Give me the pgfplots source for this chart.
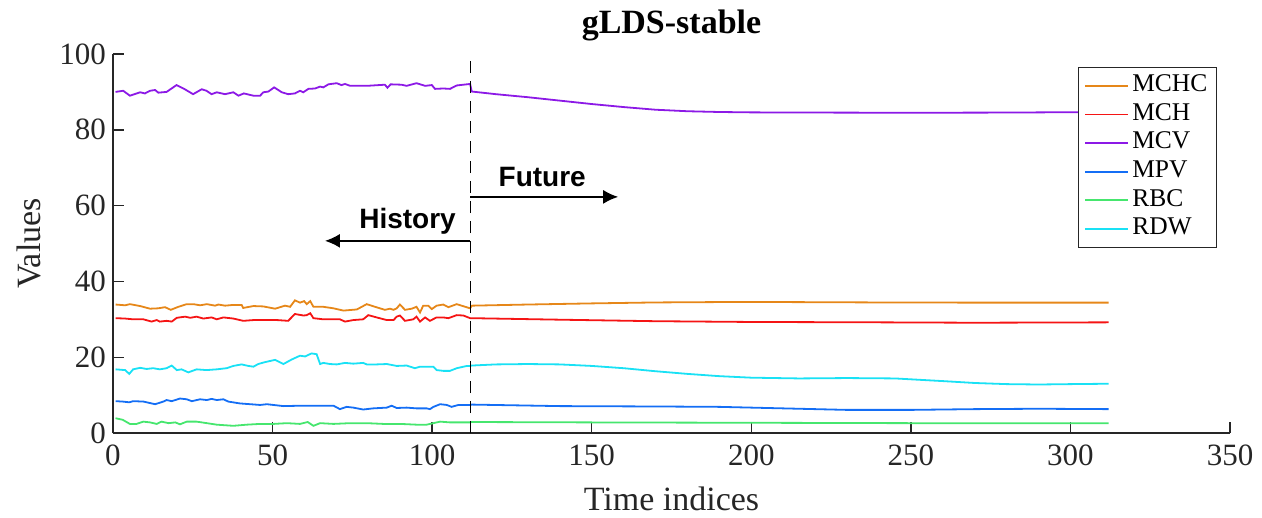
\documentclass[border=0pt]{standalone}
\usepackage{pgfplots}
\pgfplotsset{compat=1.18}
\usetikzlibrary{arrows.meta}
\usepackage{fontspec}
\setmainfont{Liberation Serif}
\newfontfamily\helv{Liberation Sans}
\definecolor{cMCHC}{RGB}{230,135,25}
\definecolor{cMCH}{RGB}{245,20,20}
\definecolor{cMCV}{RGB}{140,25,230}
\definecolor{cMPV}{RGB}{20,110,245}
\definecolor{cRBC}{RGB}{70,230,110}
\definecolor{cRDW}{RGB}{25,225,245}
\definecolor{axgray}{RGB}{38,38,38}
\begin{document}
\begin{tikzpicture}
\begin{axis}[
  scale only axis, width=558.5pt, height=189.5pt,
  xmin=0, xmax=350, ymin=0, ymax=100,
  xtick={0,50,...,350}, ytick={0,20,...,100},
  axis x line*=bottom, axis y line*=left,
  tick align=inside, major tick length=5.5pt,
  axis line style={line width=0.7pt, color=axgray},
  every tick/.style={line width=0.7pt, color=axgray},
  /pgf/number format/assume math mode=true,
  tick label style={font=\fontsize{15.5}{18}\selectfont, text=axgray},
  xticklabel shift=2.5pt,
  label style={font=\fontsize{17}{20}\selectfont, text=axgray},
  xlabel={Time indices}, ylabel={Values},
  xlabel shift=3.5pt, ylabel shift=2.5pt,
  title={\bfseries gLDS-stable},
  title style={font=\fontsize{17}{20}\selectfont, yshift=-3pt},
  legend cell align=left,
  legend style={at={(1,1)}, anchor=north east, xshift=-6.5pt, yshift=-6.5pt,
    font=\fontsize{12.75}{14}\selectfont, draw=axgray, line width=0.6pt, fill=white,
    inner xsep=3pt, inner ysep=2pt, row sep=0pt,
    nodes={inner ysep=1pt, inner xsep=1.5pt, text height=9pt, text depth=3.3pt}},
  legend image code/.code={\draw[#1] (0pt,0pt) -- (21.7pt,0pt);},
  every axis plot/.append style={line width=0.9pt},
]
\addplot[cMCHC] coordinates {(0.8,33.9)(3.8,33.7)(5.3,34.0)(8.5,33.5)(11.6,32.8)(14.2,32.9)(16.3,33.2)(18.1,32.5)(20.5,33.3)(23.1,34.0)(25.2,34.0)(27.3,33.7)(29.4,34.0)(32.0,33.6)(33.0,33.9)(35.1,33.6)(37.7,33.8)(40.3,33.8)(40.8,33.0)(44.0,33.5)(47.1,33.4)(50.8,32.8)(53.9,33.6)(55.5,33.3)(57.0,35.0)(58.6,34.4)(59.9,34.8)(60.7,34.0)(61.8,34.8)(62.8,33.3)(65.9,33.3)(69.1,32.9)(72.2,32.3)(76.4,32.6)(79.5,34.0)(82.1,33.3)(85.2,32.5)(86.8,32.8)(87.9,32.5)(88.9,32.9)(89.9,33.9)(91.5,32.5)(93.6,32.8)(95.1,33.3)(96.2,31.8)(97.2,33.6)(98.8,33.6)(99.9,32.7)(101.4,33.6)(103.5,33.9)(105.1,33.2)(107.7,34.0)(111.9,32.9)(112.4,33.6)(130,33.9)(150,34.2)(170,34.45)(190,34.55)(210,34.55)(240,34.45)(270,34.4)(312,34.4)};
\addlegendentry{MCHC}
\addplot[cMCH] coordinates {(0.8,30.3)(3.8,30.2)(6.3,30.0)(9.5,30.0)(12.1,29.4)(13.7,29.8)(14.7,29.4)(16.8,29.6)(18.4,29.4)(20.0,30.4)(22.6,30.7)(24.2,30.4)(26.2,30.7)(28.3,30.2)(30.9,30.5)(32.5,30.0)(34.6,30.5)(37.7,30.2)(40.8,29.6)(44.0,29.8)(48.2,29.8)(51.4,29.8)(54.9,29.6)(57.0,31.4)(59.7,31.0)(60.7,31.1)(61.8,31.6)(62.8,30.3)(65.9,30.0)(71.1,30.0)(72.7,29.4)(75.3,29.8)(78.4,30.0)(80.0,31.1)(82.6,30.5)(85.8,29.8)(87.9,29.8)(88.9,30.7)(89.9,31.0)(91.5,29.6)(94.1,30.0)(95.1,30.7)(96.2,29.4)(97.8,30.5)(99.3,29.6)(101.4,30.5)(103.5,30.5)(105.1,30.3)(107.7,31.1)(109.8,31.0)(111.9,30.3)(112.4,30.3)(140,29.9)(170,29.5)(200,29.3)(240,29.2)(270,29.1)(312,29.2)};
\addlegendentry{MCH}
\addplot[cMCV] coordinates {(0.8,90.0)(3.2,90.3)(5.3,89.0)(8.5,89.9)(10,89.6)(11.6,90.3)(13.2,90.5)(14.2,89.8)(16.8,90.0)(19.9,91.8)(22.5,90.7)(25.1,89.4)(27.8,90.7)(29.3,90.3)(30.9,89.4)(32.5,89.9)(35.1,89.4)(37.7,89.9)(39.3,89.0)(41.0,89.6)(44.0,89.0)(46.1,89.0)(47.1,89.9)(48.7,90.1)(50.5,91.2)(52.9,89.9)(54.9,89.4)(57.0,89.6)(58.6,90.3)(59.6,89.9)(61.2,90.8)(63.3,90.9)(64.9,91.4)(65.9,91.2)(67.5,92.0)(70.1,92.3)(71.6,91.8)(72.7,92.1)(74.3,91.6)(79.5,91.6)(85.2,91.9)(86.0,91.1)(87.0,92.0)(90.4,91.9)(92.0,91.6)(95.1,92.3)(97.8,91.6)(99.9,91.8)(100.9,90.8)(103.5,90.9)(105.6,90.8)(107.7,91.7)(111.9,92.1)(112.4,90.1)(120,89.4)(130,88.6)(140,87.7)(150,86.8)(160,86.0)(170,85.3)(180,84.9)(190,84.7)(200,84.6)(220,84.55)(250,84.5)(280,84.55)(312,84.7)};
\addlegendentry{MCV}
\addplot[cMPV] coordinates {(0.8,8.4)(3.0,8.3)(5.1,8.1)(6.3,8.4)(9.5,8.3)(13.2,7.6)(15.8,8.3)(16.8,8.7)(18.4,8.4)(21.0,9.1)(23.1,8.9)(24.7,8.4)(27.3,8.9)(29.4,8.7)(30.9,9.0)(32.5,8.7)(34.6,8.9)(36.1,8.3)(39.8,7.8)(43.0,7.6)(46.1,7.4)(48.2,7.6)(53.4,7.1)(58.6,7.2)(63.8,7.2)(69.1,7.2)(71.1,6.3)(73.2,6.9)(75.3,6.7)(78.4,6.2)(81.5,6.5)(85.8,6.7)(87.3,7.2)(88.9,6.6)(92.0,6.7)(95.1,6.5)(98.3,6.5)(99.3,6.3)(100.4,6.9)(102.5,7.6)(104.6,7.4)(106.1,6.9)(108.2,7.4)(111.9,7.4)(112.4,7.5)(140,7.1)(170,7.0)(190,6.9)(210,6.5)(230,6.1)(250,6.1)(270,6.3)(290,6.4)(312,6.3)};
\addlegendentry{MPV}
\addplot[cRBC] coordinates {(0.8,3.9)(3.0,3.5)(5.3,2.4)(7.4,2.4)(9.5,3.0)(11.6,2.8)(13.7,2.4)(15.2,3.0)(17.4,2.6)(19.5,2.8)(21.0,2.3)(23.1,3.0)(26.2,3.0)(29.4,2.6)(32.5,2.2)(37.7,1.9)(41.9,2.2)(46.1,2.4)(50.3,2.4)(54.5,2.6)(58.6,2.4)(61.0,2.9)(62.8,1.9)(64.9,2.6)(69.1,2.4)(74.3,2.6)(79.5,2.6)(84.7,2.4)(90.0,2.4)(95.1,2.2)(98.3,2.2)(102.5,3.0)(105.6,2.8)(108.8,2.8)(111.9,2.8)(112.4,2.9)(150,2.8)(200,2.7)(250,2.6)(312,2.6)};
\addlegendentry{RBC}
\addplot[cRDW] coordinates {(0.8,16.8)(3.8,16.6)(5.1,15.6)(6.3,16.8)(8.5,17.2)(10.5,16.9)(12.6,17.1)(14.7,16.8)(16.8,17.1)(18.4,17.8)(20.0,16.6)(21.5,16.8)(23.6,16.0)(26.2,16.8)(29.3,16.6)(32.5,16.8)(35.6,17.1)(37.7,17.7)(40.3,18.1)(42.4,17.7)(44.0,17.5)(45.5,18.2)(47.6,18.7)(50.8,19.3)(53.4,18.2)(56.0,19.4)(58.6,20.4)(60.2,20.2)(62.2,21.0)(63.8,20.8)(64.9,18.2)(65.9,18.5)(68.0,18.2)(70.1,18.1)(72.7,18.5)(75.3,18.3)(78.4,18.5)(79.5,18.1)(82.6,18.1)(85.8,18.2)(88.9,17.7)(92.0,17.8)(94.6,17.1)(96.2,17.5)(100.4,17.5)(101.4,16.6)(103.5,16.4)(105.6,16.4)(107.7,17.1)(110.9,17.7)(112.0,17.7)(112.4,17.8)(120,18.1)(130,18.2)(140,18.1)(150,17.7)(160,17.1)(170,16.3)(180,15.6)(190,15.0)(200,14.6)(215,14.4)(230,14.5)(245,14.4)(260,13.7)(270,13.2)(280,12.9)(290,12.8)(300,12.9)(312,13.0)};
\addlegendentry{RDW}
\draw[black, line width=0.7pt, dash pattern=on 6pt off 4pt] (axis cs:112,0) -- (axis cs:112,100);
\draw[black, line width=0.9pt, -{Latex[length=7.5pt,width=7pt]}] (axis cs:112,62.3) -- (axis cs:158.3,62.3);
\draw[black, line width=0.9pt, -{Latex[length=7.5pt,width=7pt]}] (axis cs:112,50.7) -- (axis cs:66.4,50.7);
\node[anchor=base, font=\helv\bfseries\fontsize{14}{16}\selectfont] at (axis cs:134.5,65.0) {Future};
\node[anchor=base, font=\helv\bfseries\fontsize{14}{16}\selectfont] at (axis cs:92.3,54.0) {History};
\end{axis}
\path[use as bounding box] ([shift={(-56.5pt,-42pt)}]current axis.south west) rectangle ([shift={(16pt,27pt)}]current axis.north east);
\end{tikzpicture}
\end{document}
